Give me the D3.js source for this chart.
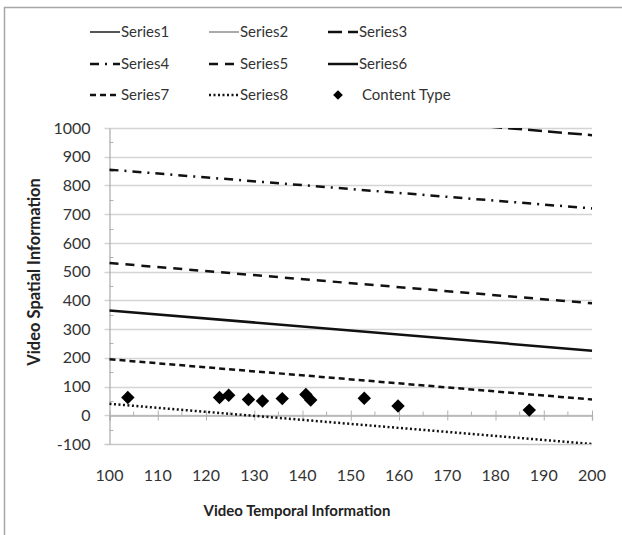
<!DOCTYPE html>
<html lang="en">
	<head>
		<meta charset="utf-8">
		<title>Video Spatial vs Temporal Information</title>
		<script type="text/javascript" src="https://cdn.jsdelivr.net/npm/d3@7"></script>
		<style>
			body {
				margin: 0;
				background: #fff;
				font-family: Lato, "Open Sans", sans-serif;
			}
		</style>
	</head>
	<body>
		<script type="text/javascript">

			//Data
			var seriesNames = ["Series1", "Series2", "Series3", "Series4", "Series5", "Series6", "Series7", "Series8"];
			var xEnds = [100, 200];
			var series1 = [1400, 1260];
			var series2 = [1260, 1120];
			var series3 = [1115, 975];
			var series4 = [855, 720];
			var series5 = [530, 390];
			var series6 = [365, 225];
			var series7 = [195, 55];
			var series8 = [40, -100];
			var contentX = [103.8, 122.8, 124.7, 128.8, 131.7, 135.8, 140.7, 141.7, 152.8, 159.8, 187];
			var contentY = [62, 62, 70, 55, 50, 58, 72, 53, 59, 32, 18];
			var xTicks = [100, 110, 120, 130, 140, 150, 160, 170, 180, 190, 200];
			var yTicks = [-100, 0, 100, 200, 300, 400, 500, 600, 700, 800, 900, 1000];

			var allSeries = [series1, series2, series3, series4, series5, series6, series7, series8];

			//Line styles per series
			var styles = [
				{ stroke: "#555", width: 2, dash: null },
				{ stroke: "#aaa", width: 2, dash: null },
				{ stroke: "#111", width: 2.5, dash: "14,6" },
				{ stroke: "#111", width: 2.5, dash: "9,6,2,6" },
				{ stroke: "#111", width: 2.5, dash: "9,7" },
				{ stroke: "#111", width: 2.5, dash: null },
				{ stroke: "#111", width: 2.5, dash: "6,4" },
				{ stroke: "#111", width: 2.5, dash: "2,2.5" }
			];

			var w = 622;
			var h = 535;

			var svg = d3.select("body")
						.append("svg")
						.attr("width", w)
						.attr("height", h);

			//Chart frame (only left/top edges visible in the picture)
			svg.append("path")
			   .attr("d", "M4.5," + h + "V7.5H" + w)
			   .attr("fill", "none")
			   .attr("stroke", "#a6a6a6")
			   .attr("stroke-width", 1.5);

			var x = d3.scaleLinear().domain([100, 200]).range([109.5, 592]);
			var y = d3.scaleLinear().domain([-100, 1000]).range([444, 128]);

			svg.append("defs").append("clipPath")
			   .attr("id", "plot")
			   .append("rect")
			   .attr("x", x(100) - 2)
			   .attr("y", y(1000))
			   .attr("width", x(200) - x(100) + 4)
			   .attr("height", y(-100) - y(1000));

			//Horizontal gridlines
			svg.append("g")
			   .selectAll("line")
			   .data(yTicks)
			   .enter()
			   .append("line")
			   .attr("x1", x(100) - 5)
			   .attr("x2", x(200))
			   .attr("y1", function(d) { return Math.round(y(d)) + 0.5; })
			   .attr("y2", function(d) { return Math.round(y(d)) + 0.5; })
			   .attr("stroke", function(d) { return d === -100 ? "#c8c8c8" : "#d4d4d4"; })
			   .attr("stroke-width", 1.3);

			//Y axis with minor ticks
			var yAxis = d3.axisLeft(y)
						  .tickValues(yTicks)
						  .tickFormat(function(d) { return String(d); })
						  .tickSize(0)
						  .tickPadding(19);
			var gy = svg.append("g")
						.attr("transform", "translate(" + x(100) + ",0)")
						.call(yAxis);
			gy.select(".domain").attr("stroke", "#b0b0b0").attr("stroke-width", 1.3);
			gy.selectAll("text")
			  .attr("font-family", "Lato, sans-serif")
			  .attr("font-size", 16)
			  .attr("fill", "#333");

			gy.selectAll(".minor")
			  .data(d3.range(-50, 1000, 100))
			  .enter()
			  .append("line")
			  .attr("class", "minor")
			  .attr("x1", 0)
			  .attr("x2", 4)
			  .attr("y1", function(d) { return Math.round(y(d)) + 0.5; })
			  .attr("y2", function(d) { return Math.round(y(d)) + 0.5; })
			  .attr("stroke", "#b0b0b0");

			//X axis crossing at y = 0
			var gx = svg.append("g")
						.attr("transform", "translate(0," + (Math.round(y(0)) + 0.5) + ")")
						.call(d3.axisBottom(x).tickValues(xTicks).tickSize(5).tickFormat(""));
			gx.select(".domain").attr("stroke", "#b0b0b0").attr("stroke-width", 1.3);
			gx.selectAll(".tick line")
			  .attr("y1", -5)
			  .attr("y2", 5)
			  .attr("stroke", "#b0b0b0");
			gx.selectAll(".minor")
			  .data(d3.range(105, 200, 10))
			  .enter()
			  .append("line")
			  .attr("class", "minor")
			  .attr("x1", function(d) { return x(d); })
			  .attr("x2", function(d) { return x(d); })
			  .attr("y1", -4)
			  .attr("y2", 0)
			  .attr("stroke", "#b0b0b0");

			//X tick labels sit below the plot
			svg.append("g")
			   .selectAll("text")
			   .data(xTicks)
			   .enter()
			   .append("text")
			   .attr("x", function(d) { return x(d); })
			   .attr("y", 481)
			   .attr("text-anchor", "middle")
			   .attr("font-size", 16)
			   .attr("fill", "#333")
			   .text(function(d) { return d; });

			//Axis titles
			svg.append("text")
			   .attr("x", 297)
			   .attr("y", 516)
			   .attr("text-anchor", "middle")
			   .attr("font-size", 15)
			   .attr("font-weight", "bold")
			   .attr("fill", "#222")
			   .text("Video Temporal Information");

			svg.append("text")
			   .attr("transform", "translate(40,272) rotate(-90)")
			   .attr("text-anchor", "middle")
			   .attr("font-size", 16.5)
			   .attr("font-weight", "bold")
			   .attr("fill", "#222")
			   .text("Video Spatial Information");

			//Series lines
			var line = d3.line()
						 .x(function(d, i) { return x(xEnds[i]); })
						 .y(function(d) { return y(d); });

			svg.append("g")
			   .attr("clip-path", "url(#plot)")
			   .selectAll("path")
			   .data(allSeries)
			   .enter()
			   .append("path")
			   .attr("d", line)
			   .attr("fill", "none")
			   .attr("stroke", function(d, i) { return styles[i].stroke; })
			   .attr("stroke-width", function(d, i) { return styles[i].width; })
			   .attr("stroke-dasharray", function(d, i) { return styles[i].dash; });

			//Content Type diamonds
			var diamond = d3.symbol().type(d3.symbolDiamond2).size(115);
			svg.append("g")
			   .selectAll("path")
			   .data(contentX)
			   .enter()
			   .append("path")
			   .attr("transform", function(d, i) { return "translate(" + x(d) + "," + y(contentY[i]) + ")"; })
			   .attr("d", diamond)
			   .attr("fill", "#000");

			//Legend: 3 columns x 3 rows
			var colX = [90, 209, 328];
			var rowY = [32, 64, 95];
			var legendItems = seriesNames.concat(["Content Type"]);

			var leg = svg.append("g")
						 .selectAll("g")
						 .data(legendItems)
						 .enter()
						 .append("g")
						 .attr("transform", function(d, i) {
							 return "translate(" + colX[i % 3] + "," + rowY[Math.floor(i / 3)] + ")";
						 });

			leg.filter(function(d, i) { return i < 8; })
			   .append("line")
			   .attr("x1", 0)
			   .attr("x2", 30)
			   .attr("y1", 0)
			   .attr("y2", 0)
			   .attr("stroke", function(d, i) { return styles[i].stroke; })
			   .attr("stroke-width", function(d, i) { return styles[i].width; })
			   .attr("stroke-dasharray", function(d, i) { return styles[i].dash; });

			leg.filter(function(d, i) { return i === 8; })
			   .append("path")
			   .attr("transform", "translate(10,0)")
			   .attr("d", d3.symbol().type(d3.symbolDiamond2).size(60))
			   .attr("fill", "#000");

			leg.append("text")
			   .attr("x", function(d, i) { return i === 8 ? 34 : 31; })
			   .attr("y", 5)
			   .attr("font-size", 15)
			   .attr("fill", "#333")
			   .text(function(d) { return d; });

		</script>
	</body>
</html>
